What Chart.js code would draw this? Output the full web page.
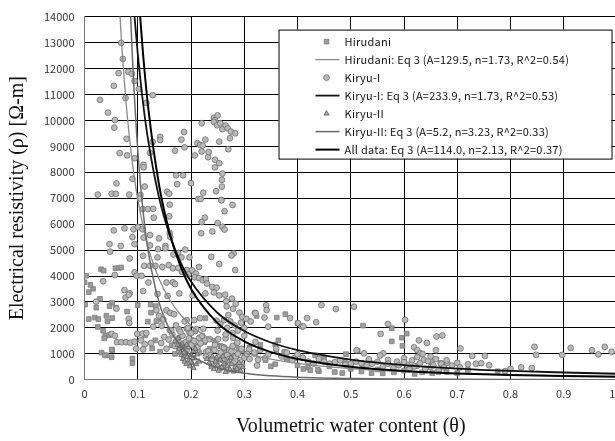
<!DOCTYPE html>
<html>
<head>
<meta charset="utf-8">
<script src="https://cdn.jsdelivr.net/npm/chart.js@4.4.1/dist/chart.umd.min.js"></script>
<style>
  html, body { margin: 0; padding: 0; background: #fff; overflow: hidden; }
  #wrap { width: 640px; height: 441px; }
</style>
</head>
<body>
<div id="wrap"><canvas id="chart"></canvas></div>
<script>
// measured points [theta, rho]
const hirudani = [
  [0.031, 4260], [0.036, 4210], [0.058, 4300], [0.064, 4310], [0.069, 4330], [0.000, 3760],
  [0.003, 4010], [0.016, 3510], [0.008, 3380], [0.029, 3120], [0.001, 2900], [0.022, 2780],
  [0.052, 2970], [0.059, 2780], [0.008, 2340], [0.019, 2400], [0.043, 2250], [0.052, 2380],
  [0.080, 2630], [0.100, 2880], [0.124, 2900], [0.134, 2840], [0.125, 2590], [0.025, 2040],
  [0.039, 1690], [0.046, 1720], [0.037, 1600], [0.052, 1140], [0.032, 1050], [0.041, 940],
  [0.051, 870], [0.090, 820], [0.090, 640], [0.119, 2240], [0.135, 2260], [0.145, 2330],
  [0.114, 1710], [0.133, 1520], [0.127, 1210], [0.164, 1330], [0.178, 1370], [0.227, 2380],
  [0.142, 1080], [0.011, 3660], [0.026, 2340], [0.041, 2470], [0.047, 2840], [0.035, 1890],
  [0.038, 950], [0.051, 1170],
  [0.170, 1000], [0.185, 1250], [0.200, 1550], [0.210, 1300], [0.215, 1050], [0.225, 1450],
  [0.235, 1200], [0.245, 1500], [0.255, 1300], [0.265, 1100], [0.275, 950], [0.285, 1350],
  [0.290, 1150], [0.300, 900], [0.310, 1250], [0.320, 1000], [0.330, 1350], [0.340, 760],
  [0.360, 1100], [0.380, 800], [0.400, 560], [0.420, 480], [0.440, 330], [0.460, 520],
  [0.470, 300], [0.500, 420], [0.520, 320], [0.550, 400], [0.560, 250], [0.600, 350],
  [0.620, 230], [0.640, 360], [0.680, 300], [0.700, 260], [0.720, 380], [0.776, 330],
  [0.361, 2400], [0.377, 2530], [0.400, 2180], [0.523, 2090], [0.577, 1990], [0.596, 1620],
  [0.605, 1780], [0.577, 1480], [0.597, 1310], [0.364, 1520], [0.358, 1360], [0.375, 1080],
  [0.378, 880], [0.358, 600], [0.350, 520], [0.411, 420], [0.424, 370], [0.433, 950],
  [0.438, 390], [0.450, 870], [0.491, 990], [0.489, 700], [0.494, 600], [0.500, 490],
  [0.513, 1120], [0.484, 260], [0.522, 490], [0.539, 260], [0.581, 290], [0.612, 490],
  [0.634, 290], [0.653, 260], [0.665, 290], [0.323, 2460]
];

const kiryu1 = [
  [0.069, 12990], [0.072, 12370], [0.064, 11820], [0.082, 11875], [0.089, 11800], [0.055, 11330],
  [0.094, 11520], [0.102, 11210], [0.128, 10970], [0.029, 10790], [0.077, 10860], [0.116, 10670],
  [0.044, 10300], [0.057, 10010], [0.056, 9720], [0.079, 9290], [0.066, 8740], [0.080, 8650],
  [0.094, 8540], [0.123, 8750], [0.142, 9370], [0.142, 9240], [0.128, 9170], [0.170, 8830],
  [0.182, 9260], [0.187, 9550], [0.188, 8960], [0.111, 8290], [0.111, 8190], [0.207, 8650],
  [0.220, 9890], [0.212, 9120], [0.217, 9050], [0.222, 9030], [0.227, 9260], [0.220, 8800],
  [0.232, 8580], [0.233, 8780], [0.243, 10100], [0.245, 10010], [0.250, 10190], [0.243, 9940],
  [0.249, 9810], [0.255, 9890], [0.259, 9660], [0.265, 9800], [0.269, 9690], [0.275, 9570],
  [0.283, 9500], [0.273, 9310], [0.253, 9180], [0.270, 8890], [0.245, 8480], [0.245, 8190],
  [0.253, 8350], [0.259, 7950], [0.258, 7710], [0.258, 7450], [0.247, 7270], [0.257, 6930],
  [0.172, 7880], [0.185, 7880], [0.174, 7540], [0.200, 7580], [0.223, 7210], [0.214, 6970],
  [0.155, 7250], [0.159, 7170], [0.113, 7450], [0.090, 7750], [0.060, 7570], [0.025, 7140],
  [0.051, 7170], [0.059, 7170], [0.084, 7140], [0.105, 7120],
  [0.104, 6990], [0.160, 6750], [0.218, 6970], [0.257, 6920], [0.278, 6740], [0.109, 6580],
  [0.119, 6580], [0.129, 6590], [0.130, 6250], [0.159, 6300], [0.263, 6500], [0.226, 6250],
  [0.220, 6080], [0.250, 6040], [0.259, 5900], [0.263, 5790], [0.219, 5650], [0.240, 5720],
  [0.055, 5760], [0.075, 5840], [0.092, 5800], [0.100, 5890], [0.109, 5800], [0.123, 5580],
  [0.111, 5480], [0.090, 5500], [0.140, 5450], [0.160, 5660], [0.161, 5510], [0.047, 5230],
  [0.068, 5160], [0.094, 5230], [0.123, 5180], [0.138, 5040], [0.152, 5160], [0.152, 5070],
  [0.048, 4940], [0.085, 4680], [0.110, 4780], [0.137, 4720], [0.167, 4830], [0.176, 4890],
  [0.189, 5020], [0.182, 4720], [0.197, 4720], [0.238, 4740], [0.280, 4870], [0.276, 4790],
  [0.253, 4460], [0.283, 4230], [0.215, 4350], [0.112, 4390], [0.123, 4400], [0.133, 4390],
  [0.146, 4350], [0.158, 4420], [0.166, 4300], [0.176, 4310], [0.183, 4160], [0.192, 4230],
  [0.202, 4220], [0.209, 4100], [0.195, 4060], [0.094, 4140], [0.098, 4010], [0.107, 4010],
  [0.057, 4040], [0.035, 3800], [0.120, 3750], [0.154, 3750], [0.166, 3760], [0.170, 3690],
  [0.207, 3950], [0.215, 3920], [0.222, 3840], [0.228, 3880], [0.230, 3710], [0.240, 3580],
  [0.248, 3550], [0.075, 3460], [0.085, 3330], [0.077, 3170], [0.083, 3280], [0.110, 3420],
  [0.137, 3310], [0.156, 3230], [0.178, 3330], [0.203, 3250], [0.227, 3330], [0.243, 3370],
  [0.253, 3250], [0.264, 3280], [0.266, 3030], [0.277, 3130], [0.284, 2930], [0.267, 2830],
  [0.279, 2740], [0.022, 3010], [0.060, 2740], [0.083, 2350], [0.084, 2190], [0.135, 2680],
  [0.140, 2460], [0.154, 2680], [0.161, 2580], [0.168, 2530], [0.148, 2330], [0.192, 2300],
  [0.206, 2300], [0.217, 2380], [0.248, 2280], [0.270, 2500], [0.291, 2590], [0.296, 2430],
  [0.320, 2580], [0.129, 2050], [0.145, 2080], [0.160, 1920], [0.177, 1950], [0.192, 1970],
  [0.208, 1880], [0.223, 1970], [0.051, 1770], [0.057, 1700], [0.099, 1770], [0.109, 1780],
  [0.116, 1800], [0.061, 1450], [0.069, 1450], [0.078, 1450], [0.086, 1430], [0.094, 1470],
  [0.106, 1520], [0.113, 1370], [0.125, 1420], [0.144, 1420], [0.154, 1200], [0.097, 1200],
  [0.110, 1170], [0.197, 1820], [0.215, 1610], [0.227, 1520], [0.235, 1570], [0.251, 1570],
  [0.265, 1600], [0.279, 1620], [0.287, 1430], [0.259, 1270], [0.272, 1140], [0.295, 1140],
  [0.309, 1170], [0.321, 1460], [0.212, 1140], [0.228, 1080],
  [0.150, 1650], [0.158, 1550], [0.165, 1750], [0.170, 1300], [0.176, 1600], [0.184, 1700],
  [0.190, 1450], [0.196, 1600], [0.201, 1350], [0.206, 1500], [0.212, 1250], [0.218, 1400],
  [0.163, 1900], [0.172, 2100], [0.180, 1850], [0.188, 2250], [0.194, 2000], [0.200, 1800],
  [0.210, 1950], [0.221, 1700], [0.178, 1100], [0.192, 1150], [0.186, 950],
  [0.232, 1100], [0.236, 950], [0.240, 800], [0.244, 1150], [0.248, 650], [0.252, 900],
  [0.256, 1050], [0.260, 750], [0.264, 550], [0.268, 950], [0.272, 800], [0.276, 1100],
  [0.280, 650], [0.284, 900], [0.288, 1000], [0.292, 750], [0.296, 550], [0.300, 850],
  [0.238, 600], [0.255, 450], [0.270, 400], [0.285, 450], [0.228, 900], [0.262, 1250],
  [0.278, 1300], [0.295, 1200], [0.305, 1000], [0.310, 800], [0.245, 1350],
  [0.255, 2150], [0.262, 2300], [0.268, 2000], [0.274, 2250], [0.282, 2100], [0.288, 1900],
  [0.294, 2200], [0.300, 2000], [0.278, 1800], [0.265, 1750], [0.250, 1900], [0.304, 2350],
  [0.312, 2250], [0.300, 1700],
  [0.321, 2570], [0.341, 2870], [0.342, 2690], [0.338, 2400], [0.345, 2050], [0.386, 2380],
  [0.401, 2180], [0.408, 2060], [0.411, 2060], [0.418, 2380], [0.435, 2220], [0.445, 2880],
  [0.472, 2730], [0.506, 2820], [0.602, 2310], [0.570, 2150], [0.556, 1770], [0.511, 1140],
  [0.525, 1020], [0.561, 1020], [0.555, 940], [0.534, 790], [0.550, 700], [0.570, 770],
  [0.587, 700], [0.619, 1250], [0.625, 1140], [0.631, 1020], [0.628, 1520], [0.643, 1420],
  [0.661, 1670], [0.672, 1710], [0.660, 1140], [0.637, 770], [0.650, 700], [0.669, 640],
  [0.681, 660], [0.600, 830], [0.606, 580], [0.625, 540], [0.650, 490], [0.319, 1050],
  [0.326, 770], [0.339, 830], [0.324, 550], [0.394, 830],
  [0.330, 1150], [0.345, 980], [0.360, 1200], [0.370, 900], [0.380, 1050], [0.390, 760],
  [0.400, 980], [0.410, 850], [0.420, 700], [0.430, 620], [0.440, 800],
  [0.560, 500], [0.570, 620], [0.580, 450], [0.590, 560], [0.600, 680], [0.610, 400],
  [0.615, 750], [0.620, 520], [0.625, 880], [0.630, 640], [0.635, 1000], [0.640, 430],
  [0.645, 720], [0.650, 900], [0.655, 560], [0.660, 800], [0.665, 380], [0.670, 620],
  [0.675, 480], [0.680, 750], [0.690, 550], [0.700, 650], [0.705, 480], [0.540, 620],
  [0.530, 560], [0.520, 640], [0.510, 700], [0.500, 620], [0.490, 580], [0.480, 750],
  [0.470, 680], [0.460, 620], [0.450, 700],
  [0.706, 1210], [0.728, 920], [0.752, 920], [0.845, 1270], [0.848, 960], [0.897, 960],
  [0.913, 1230], [0.953, 1140], [0.965, 980], [0.977, 1270], [0.990, 1080],
  [0.720, 600], [0.735, 620], [0.745, 640], [0.760, 560], [0.790, 330], [0.800, 420],
  [0.820, 480], [0.840, 450]
];

const kiryu2 = [
  [0.170, 1500], [0.175, 1350], [0.178, 1200], [0.180, 1050], [0.182, 950], [0.183, 1400],
  [0.185, 800], [0.186, 1150], [0.188, 700], [0.190, 1000], [0.191, 600], [0.193, 880],
  [0.195, 1250], [0.196, 750], [0.198, 520], [0.200, 950], [0.202, 650], [0.204, 1100],
  [0.205, 450], [0.207, 820], [0.210, 600], [0.212, 980], [0.176, 1600], [0.181, 1300],
  [0.187, 1050], [0.192, 1350], [0.199, 700], [0.203, 850], [0.208, 1200], [0.215, 700],
  [0.230, 800], [0.234, 650], [0.238, 500], [0.240, 900], [0.243, 420], [0.246, 700],
  [0.250, 560], [0.252, 350], [0.255, 780], [0.258, 480], [0.262, 620], [0.265, 300],
  [0.268, 520], [0.270, 700], [0.273, 400], [0.276, 600], [0.280, 320], [0.283, 500],
  [0.286, 420], [0.290, 650], [0.293, 350], [0.297, 480], [0.248, 850], [0.260, 900],
  [0.275, 850]
];

// fitted curves [theta, rho]
const hirudaniFit = [
  [0.066, 14260], [0.07, 12880], [0.08, 10225], [0.09, 8340], [0.10, 6955], [0.12, 5075],
  [0.14, 3887], [0.16, 3087], [0.18, 2518], [0.20, 2097], [0.25, 1426], [0.30, 1040],
  [0.35, 796], [0.40, 632], [0.50, 430], [0.60, 313], [0.70, 240], [0.80, 190],
  [0.90, 155], [1.00, 130], [1.05, 119]
];
const kiryu1Fit = [
  [0.093, 14230], [0.10, 12562], [0.11, 10650], [0.12, 9167], [0.14, 7021], [0.16, 5576],
  [0.18, 4548], [0.20, 3788], [0.25, 2576], [0.30, 1878], [0.35, 1438], [0.40, 1142],
  [0.50, 776], [0.60, 566], [0.70, 434], [0.80, 344], [0.90, 281], [1.00, 234], [1.05, 215]
];
const kiryu2Fit = [
  [0.086, 14360], [0.09, 12400], [0.10, 8830], [0.11, 6490], [0.12, 4900], [0.14, 2979],
  [0.16, 1935], [0.18, 1323], [0.20, 941], [0.25, 458], [0.30, 254], [0.35, 154],
  [0.40, 100], [0.50, 49], [0.60, 27], [0.70, 17], [0.80, 11], [0.90, 7], [1.00, 5], [1.05, 4]
];
const allFit = [
  [0.104, 14140], [0.11, 12540], [0.12, 10420], [0.14, 7510], [0.16, 5650], [0.18, 4400],
  [0.20, 3510], [0.25, 2185], [0.30, 1482], [0.35, 1067], [0.40, 803], [0.50, 499],
  [0.60, 339], [0.70, 244], [0.80, 183], [0.90, 143], [1.00, 114], [1.05, 103]
];

const seriesLabels = [
  'Hirudani',
  'Hirudani: Eq 3 (A=129.5, n=1.73, R^2=0.54)',
  'Kiryu-I',
  'Kiryu-I: Eq 3 (A=233.9, n=1.73, R^2=0.53)',
  'Kiryu-II',
  'Kiryu-II: Eq 3 (A=5.2, n=3.23, R^2=0.33)',
  'All data: Eq 3 (A=114.0, n=2.13, R^2=0.37)'
];

const toXY = (rows) => rows.map(([x, y]) => ({ x, y }));
const tickFont = { family: '"Noto Sans CJK JP", "Liberation Sans", sans-serif', size: 11 };
const titleFont = { family: '"Liberation Serif", "DejaVu Serif", serif', size: 20 };

const pointSet = (label, rows, style, radius, fill, stroke, order) => ({
  label, data: toXY(rows), showLine: false, pointStyle: style, pointRadius: radius,
  pointBackgroundColor: fill, pointBorderColor: stroke, pointBorderWidth: 0.8, order,
});
const lineSet = (label, rows, color, width, order) => ({
  label, data: toXY(rows), showLine: true, pointRadius: 0, borderColor: color,
  borderWidth: width, cubicInterpolationMode: 'monotone', order,
});

const datasets = [
  pointSet(seriesLabels[0], hirudani, 'rect', 3.3, '#9c9c9c', '#7c7c7c', 9),
  lineSet(seriesLabels[1], hirudaniFit, '#8a8a8a', 1.3, 4),
  pointSet(seriesLabels[2], kiryu1, 'circle', 2.9, '#b9b9b9', '#6e6e6e', 8),
  lineSet(seriesLabels[3], kiryu1Fit, '#111', 1.8, 3),
  pointSet(seriesLabels[4], kiryu2, 'triangle', 3, '#a8a8a8', '#5a5a5a', 7),
  lineSet(seriesLabels[5], kiryu2Fit, '#6a6a6a', 1.5, 2),
  lineSet(seriesLabels[6], allFit, '#000', 2, 1),
];

const legendBox = {
  id: 'legendBox',
  afterDraw(chart) {
    const { ctx, chartArea } = chart;
    const left = chartArea.left + 194;
    const top = chartArea.top + 13;
    const w = 333, h = 129;
    ctx.save();
    ctx.fillStyle = '#fff';
    ctx.fillRect(left, top, w, h);
    ctx.strokeStyle = '#000';
    ctx.lineWidth = 1;
    ctx.strokeRect(left + 0.5, top + 0.5, w, h);
    ctx.font = `11px ${tickFont.family}`;
    ctx.letterSpacing = '0.25px';
    ctx.textBaseline = 'middle';
    chart.data.datasets.forEach((ds, i) => {
      const y = top + 12 + i * 18;
      if (ds.showLine) {
        ctx.strokeStyle = ds.borderColor;
        ctx.lineWidth = ds.borderWidth;
        ctx.beginPath();
        ctx.moveTo(left + 37, y);
        ctx.lineTo(left + 61, y);
        ctx.stroke();
      } else {
        ctx.fillStyle = ds.pointBackgroundColor;
        ctx.strokeStyle = ds.pointBorderColor;
        ctx.lineWidth = ds.pointBorderWidth;
        Chart.helpers.drawPoint(ctx, { pointStyle: ds.pointStyle, radius: ds.pointRadius, borderWidth: ds.pointBorderWidth }, left + 48, y);
      }
      ctx.fillStyle = '#111';
      ctx.fillText(ds.label, left + 66, y);
    });
    ctx.restore();
  }
};

new Chart(document.getElementById('chart'), {
  type: 'scatter',
  data: { datasets },
  plugins: [legendBox],
  options: {
    animation: false,
    responsive: true,
    maintainAspectRatio: false,
    layout: { padding: { top: 9, right: 23, left: 6, bottom: 2 } },
    plugins: { legend: { display: false }, tooltip: { enabled: false } },
    scales: {
      x: {
        type: 'linear', min: 0, max: 1,
        grid: { color: '#000', lineWidth: 1, drawTicks: false },
        border: { color: '#777' },
        ticks: { stepSize: 0.1, font: tickFont, color: '#333', padding: 7 },
        title: {
          display: true, text: 'Volumetric water content (θ)', color: '#111',
          font: titleFont, padding: { top: 8, bottom: 0 },
        },
      },
      y: {
        type: 'linear', min: 0, max: 14000,
        grid: { color: '#000', lineWidth: 1, drawTicks: false },
        border: { color: '#777' },
        ticks: { stepSize: 1000, font: tickFont, color: '#333', padding: 10, callback: (v) => String(v) },
        title: {
          display: true, text: 'Electrical resistivity (ρ) [Ω-m]', color: '#111',
          font: titleFont, padding: { top: 0, bottom: 4 },
        },
      },
    },
  },
});
</script>
</body>
</html>
